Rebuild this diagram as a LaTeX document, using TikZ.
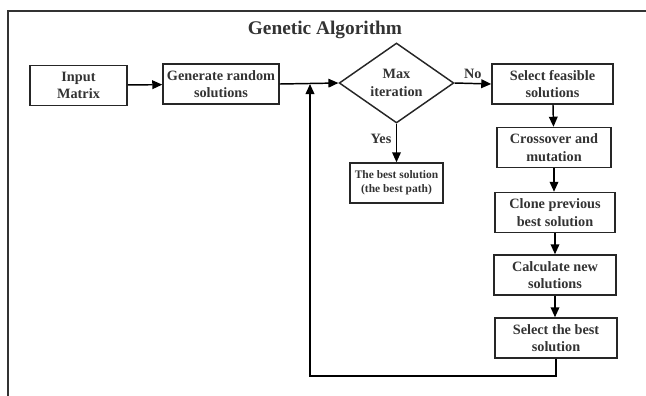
\documentclass[tikz,border=0pt]{standalone}
\usepackage{fontspec}
\setmainfont{Liberation Serif}
\usepackage{tikz}
\usetikzlibrary{positioning,shapes.geometric,arrows.meta}

\begin{document}
\begin{tikzpicture}[x=0.75pt,y=-0.75pt,
  >={Triangle[length=7.5pt,width=6.5pt]},
  line width=1.1pt,
  stepbox/.style={draw=black!85,text=black!80,font=\bfseries\fontsize{10.7}{13}\selectfont,
    align=center,inner sep=1pt,minimum height=30pt},
  decide/.style={diamond,draw=black!85,text=black!80,font=\bfseries\fontsize{10.7}{13}\selectfont,
    align=center,inner sep=0pt,aspect=1.44,minimum width=86pt,minimum height=60pt},
  lbl/.style={text=black!80,font=\bfseries\fontsize{10.7}{12}\selectfont}]
\useasboundingbox (0,0) rectangle (646,396);
% frame
\draw[black!80,line width=1.3pt] (8,396) -- (8,11) -- (646,11);
\node[text=black!80,font=\bfseries\fontsize{14.5}{16}\selectfont] (title) at (325,30) {Genetic Algorithm};
% boxes
\node[stepbox,minimum width=72.8pt] (inp) at (78.5,85.5) {Input\\Matrix};
\node[stepbox,minimum width=87pt] (gen) at (221,84) {Generate random\\solutions};
\node[decide] (maxit) at (396.5,83) {Max\\iteration};
\node[stepbox,minimum width=69.8pt,font=\bfseries\fontsize{8.6}{10.5}\selectfont] (best) at (396.5,183)
  {The best solution\\(the best path)};
\node[stepbox,minimum width=90.8pt] (sfeas) at (552.5,84) {Select feasible\\solutions};
\node[stepbox,minimum width=85.5pt] (cross) at (554,147.5) {Crossover and\\mutation};
\node[stepbox,minimum width=90pt] (clone) at (555,212.5) {Clone previous\\best solution};
\node[stepbox,minimum width=91.5pt] (calc) at (555,275) {Calculate new\\solutions};
\node[stepbox,minimum width=91.5pt] (sbest) at (556,338) {Select the best\\solution};
% arrows
\draw[->] (inp) -- (gen);
\draw[->] (gen.east) -- (maxit.west);
\draw[->] (maxit.east) -- node[lbl,above]{No} (sfeas.west);
\draw[->] (maxit.south) -- node[lbl,left,pos=0.4]{Yes} (best.north);
\draw[->] (sfeas) -- (cross);
\draw[->] (cross.south) -- (cross.south|-clone.north);
\draw[->] (clone) -- (calc);
\draw[->] (calc.south) -- (calc.south|-sbest.north);
\coordinate (loop) at (310,376);
\coordinate (join) at (310,84);
\draw[->] (sbest.south) |- (loop) -- (join);
\end{tikzpicture}
\end{document}
